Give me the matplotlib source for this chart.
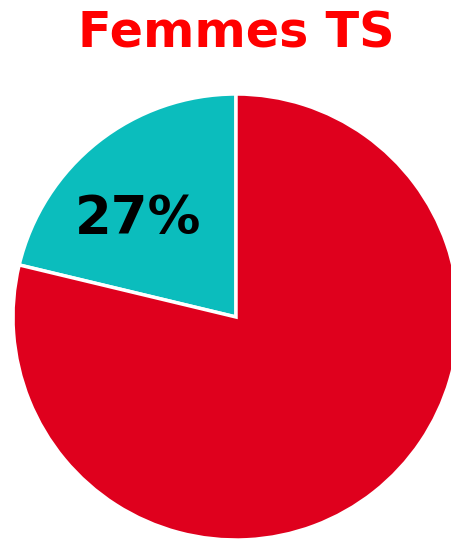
import numpy as np
import matplotlib
matplotlib.use("Agg")
from matplotlib import pyplot as plt

# slice sizes, label text as printed
parts = [21.25, 78.75]
labels = ["27%", ""]
colors = ["#0BBDBD", "#DF001D"]
title = "Femmes TS"

fig = plt.figure(figsize=(4.51, 5.40), dpi=100)
ax = fig.add_axes([0, 0, 1, 1])

cx, cy, r = 236, 223, 223
wedges, texts = ax.pie(parts, labels=labels, colors=colors,
                       startangle=90, counterclock=True,
                       center=(cx, cy), radius=r,
                       wedgeprops=dict(edgecolor="white", linewidth=2.5),
                       textprops=dict(fontsize=38, fontweight="bold", color="black",
                                      ha="center", va="center"))
# label sits a bit left of the wedge middle
ang = np.deg2rad(135)
texts[0].set_position((cx + 0.62 * r * np.cos(ang), cy + 0.62 * r * np.sin(ang)))

ax.set_xlim(0, 451)
ax.set_ylim(0, 540)
ax.set_aspect("equal")
ax.axis("off")

fig.text(236 / 451, 1 - 33 / 540, title, ha="center", va="center",
         fontsize=35.5, fontweight="bold", color="#FF0000")

fig.savefig("out.png", dpi=100)
